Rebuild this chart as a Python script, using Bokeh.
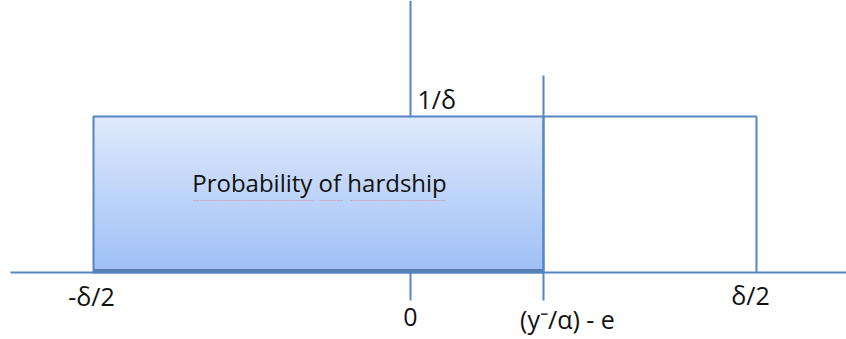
from bokeh.plotting import figure
from bokeh.models import Range1d
from bokeh.core.properties import value
from bokeh.embed import file_html
from bokeh.resources import INLINE

# Key positions on the horizontal axis (diagram units, 0 = origin)
x_names = ["-δ/2", "0", "(y⁻/α) - e", "δ/2"]
x_vals = [-317, 0, 133, 346]
# Density height (1/δ) and axis extents
density = 156
density_label = "1/δ"
area_label = "Probability of hardship"
axis_left = -400
axis_right = 436
vaxis_top = 272
vaxis_bottom = -28
cut_top = 197
# spell-check underline spans under the words of the area label
squig_x0 = [-217, -91, -60]
squig_x1 = [-96, -67, 35]

# gradient bands for the shaded area
n_bands = 40
top_rgb = (223, 233, 252)
bot_rgb = (158, 192, 246)

BLUE = "#5585c2"
FONT = "Open Sans"
TXT = "#111111"

p = figure(width=846, height=339, output_backend="svg", toolbar_location=None,
           x_range=Range1d(-410, 436), y_range=Range1d(-67, 272),
           min_border=0)
p.axis.visible = False
p.grid.visible = False
p.outline_line_color = None
p.background_fill_color = "white"

left, zero, cut, right = x_vals

# vertical axis (behind the shaded area)
p.segment(x0=[zero], y0=[vaxis_bottom], x1=[zero], y1=[vaxis_top], line_color=BLUE, line_width=2)

# shaded region (probability of hardship) with vertical gradient
bottoms, tops, cols = [], [], []
for i in range(n_bands):
    b = density * i / n_bands
    t = density * (i + 1) / n_bands
    f = i / (n_bands - 1)
    r = round(bot_rgb[0] + (top_rgb[0] - bot_rgb[0]) * f)
    g = round(bot_rgb[1] + (top_rgb[1] - bot_rgb[1]) * f)
    bl = round(bot_rgb[2] + (top_rgb[2] - bot_rgb[2]) * f)
    bottoms.append(b); tops.append(t); cols.append(f"#{r:02x}{g:02x}{bl:02x}")
p.quad(left=[left] * n_bands, right=[cut] * n_bands, bottom=bottoms, top=tops,
       fill_color=cols, line_color=cols, line_width=1)

# shadow at bottom of shaded area
p.segment(x0=[left], y0=[1.5], x1=[cut], y1=[1.5], line_color="#3e5f8e", line_width=4, line_alpha=0.7)

# outline of shaded rectangle
p.quad(left=[left], right=[cut], bottom=[0], top=[density], fill_color=None,
       line_color=BLUE, line_width=2)

# rest of the uniform density outline
p.line(x=[cut, right, right], y=[density, density, 0], line_color=BLUE, line_width=2)

# horizontal axis
p.segment(x0=[axis_left], y0=[0], x1=[axis_right], y1=[0], line_color=BLUE, line_width=2)
# cutoff line
p.segment(x0=[cut], y0=[vaxis_bottom], x1=[cut], y1=[cut_top], line_color=BLUE, line_width=2)

# labels
def lab(x, y, s, size="25px", align="center"):
    p.text(x=[x], y=[y], text=[s], text_font=value(FONT), text_font_size=size,
           text_align=align, text_baseline="alphabetic", text_color=TXT)

lab(left - 2, -23, x_names[0])
lab(zero, -44, x_names[1])
lab(cut + 24, -46, x_names[2])
lab(right - 6, -22, x_names[3])
lab(zero + 7, 174, density_label, align="left")
lab(-91, 90, area_label, size="24px")

# faint spell-check underline
p.segment(x0=squig_x0, y0=[72] * 3, x1=squig_x1, y1=[72] * 3,
          line_color="#e0808f", line_width=1.2, line_alpha=0.6, line_dash="2 1")

open("out.html", "w").write(file_html(p, INLINE))
